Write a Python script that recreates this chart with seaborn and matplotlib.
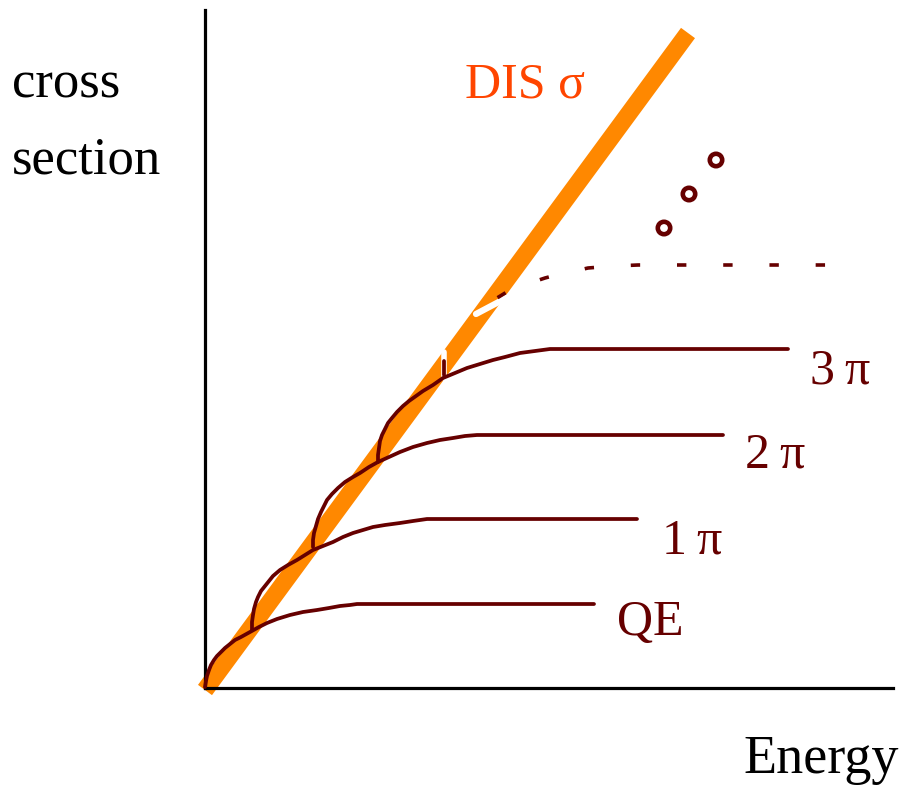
import matplotlib
matplotlib.use("Agg")
import matplotlib.pyplot as plt
import seaborn as sns

# schematic: cross section vs energy, units are roughly pixels of the original sketch
dis_x = [0, 483]
dis_y = [-2, 655]

qe_x = [0, 1, 2, 4, 6, 9, 12, 15, 20, 25, 30, 36, 45, 54, 62, 72, 85, 98, 112, 124, 135, 145, 152, 165, 389]
qe_y = [1, 7, 12, 18, 23, 28, 32, 35, 40, 44, 48, 51, 56, 61, 65, 69, 73, 76, 78, 80, 82, 83, 84, 84, 84]

pi1_x = [47, 47, 48, 49, 51, 53, 56, 60, 64, 68, 75, 83, 92, 100, 108, 118, 128, 138, 148, 158, 168, 180, 195, 208, 222, 432]
pi1_y = [58, 66, 73, 79, 86, 91, 97, 102, 107, 112, 118, 123, 128, 133, 138, 142, 146, 151, 155, 158, 161, 163, 165, 167, 169, 169]

pi2_x = [108, 108, 109, 111, 113, 116, 119, 122, 127, 133, 140, 148, 155, 164, 173, 184, 195, 208, 222, 235, 248, 260, 272, 285, 518]
pi2_y = [141, 148, 155, 162, 169, 176, 182, 188, 194, 200, 206, 211, 215, 221, 226, 231, 236, 241, 245, 248, 250, 252, 253, 253, 253]

pi3_x = [173, 173, 174, 175, 177, 180, 183, 187, 192, 198, 204, 211, 218, 228, 238, 250, 262, 275, 288, 300, 315, 330, 345, 583]
pi3_y = [226, 233, 240, 247, 253, 259, 265, 270, 276, 282, 287, 292, 297, 303, 310, 315, 320, 324, 328, 331, 335, 337, 339, 339]

# higher multiplicities: only hinted at with a dashed curve
more_x = [282, 292, 305, 325, 340, 355, 370, 383, 396, 410, 433, 477, 522, 568, 622]
more_y = [378, 390, 398, 405, 410, 414, 417, 420, 421, 422, 423, 423, 423, 423, 423]
more_start_x = [239, 239]
more_start_y = [313, 327]
gap_x = [271, 305]
gap_y = [374, 392]

dots_x = [459, 484, 511]
dots_y = [460, 494, 528]

labels = ["QE", "1\u2009\u03c0", "2\u2009\u03c0", "3\u2009\u03c0"]
label_x = [412, 457, 540, 605]
label_y = [53, 135, 221, 305]

orange = "#ff8800"
dark = "#660000"

sns.set_style("white")
plt.rcParams["font.family"] = ["Liberation Serif", "DejaVu Serif"]

fig = plt.figure(figsize=(8.99, 7.89), dpi=100)
ax = fig.add_axes([205 / 899, 101 / 789, 688 / 899, 678 / 789])
ax.set_xlim(0, 688)
ax.set_ylim(0, 678)

# DIS line
sns.lineplot(x=dis_x, y=dis_y, ax=ax, color=orange, lw=12.5, sort=False,
             estimator=None, zorder=2)
ax.lines[-1].set_solid_capstyle("butt")
ax.lines[-1].set_clip_on(False)

# white break where the dashed curve leaves the DIS line
sns.lineplot(x=gap_x, y=gap_y, ax=ax, color="white", lw=4.5, sort=False,
             estimator=None, zorder=3)
sns.lineplot(x=[239, 239], y=[310, 336], ax=ax, color="white", lw=4, sort=False,
             estimator=None, zorder=3)

for cx, cy in [(qe_x, qe_y), (pi1_x, pi1_y), (pi2_x, pi2_y), (pi3_x, pi3_y),
               (more_start_x, more_start_y)]:
    sns.lineplot(x=cx, y=cy, ax=ax, color=dark, lw=2.7, sort=False,
                 estimator=None, zorder=4)
    ax.lines[-1].set_clip_on(False)
    ax.lines[-1].set_solid_joinstyle("round")

sns.lineplot(x=more_x, y=more_y, ax=ax, color=dark, lw=2.6, sort=False,
             estimator=None, zorder=4)
ax.lines[-1].set_linestyle((8.3, (2.6, 10.2)))
ax.lines[-1].set_clip_on(False)

sns.scatterplot(x=dots_x, y=dots_y, ax=ax, marker="o", s=80, facecolor="none",
                edgecolor=dark, linewidth=3.3, zorder=5)

for lab, lx, ly in zip(labels, label_x, label_y):
    ax.text(lx, ly, lab, color=dark, fontsize=36, ha="left", va="baseline")

ax.text(260, 590, "DIS \u03c3", color="#ff4500", fontsize=36, ha="left", va="baseline")
ax.text(-193, 591, "cross", color="black", fontsize=38, ha="left", va="baseline")
ax.text(-193, 515, "section", color="black", fontsize=38, ha="left", va="baseline")
ax.text(538, -85, "Energy", color="black", fontsize=39, ha="left", va="baseline")

sns.despine(ax=ax)
for side in ["left", "bottom"]:
    ax.spines[side].set_linewidth(2.3)
    ax.spines[side].set_color("black")
ax.set_xticks([])
ax.set_yticks([])
ax.patch.set_alpha(0)

fig.savefig("out.png", dpi=100)
